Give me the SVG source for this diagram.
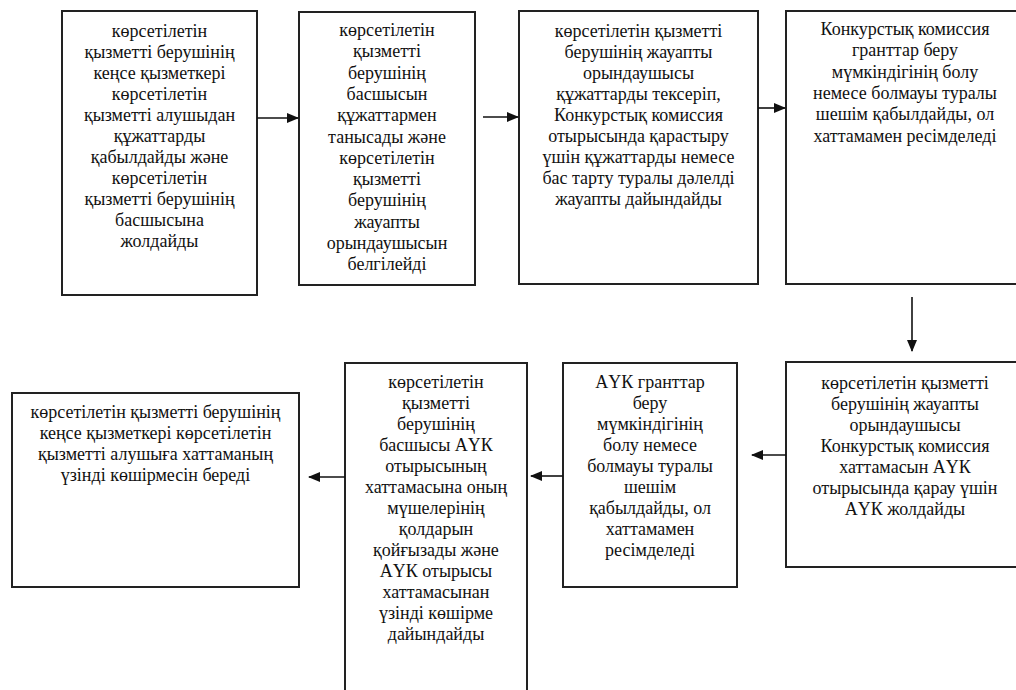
<svg xmlns="http://www.w3.org/2000/svg" width="1016" height="690" viewBox="0 0 1016 690">
<defs>
<marker id="ah" markerUnits="userSpaceOnUse" markerWidth="12" markerHeight="10" refX="11" refY="5" orient="auto">
<path d="M0,0 L12,5 L0,10 Z" fill="#111"/>
</marker>
<style>
.box{fill:#fff;stroke:#222;stroke-width:2}
.t{font-family:"Liberation Serif","Times New Roman",serif;font-size:18px;fill:#111;text-anchor:middle}
.c{stroke:#111;stroke-width:1.6;fill:none;marker-end:url(#ah)}
</style>
</defs>
<rect width="1016" height="690" fill="#fff"/>
<g id="n1">
<rect class="box" x="62" y="11" width="195" height="284"/>
<text class="t" y="37"><tspan x="159.5">көрсетілетін</tspan><tspan x="159.5" dy="21">қызметті берушінің</tspan><tspan x="159.5" dy="21">кеңсе қызметкері</tspan><tspan x="159.5" dy="21">көрсетілетін</tspan><tspan x="159.5" dy="21">қызметті алушыдан</tspan><tspan x="159.5" dy="21">құжаттарды</tspan><tspan x="159.5" dy="21">қабылдайды және</tspan><tspan x="159.5" dy="21">көрсетілетін</tspan><tspan x="159.5" dy="21">қызметті берушінің</tspan><tspan x="159.5" dy="21">басшысына</tspan><tspan x="159.5" dy="21">жолдайды</tspan></text>
</g>
<g id="n2">
<rect class="box" x="299" y="12" width="176" height="273"/>
<text class="t" y="36"><tspan x="387">көрсетілетін</tspan><tspan x="387" dy="21.3">қызметті</tspan><tspan x="387" dy="21.3">берушінің</tspan><tspan x="387" dy="21.3">басшысын</tspan><tspan x="387" dy="21.3">құжаттармен</tspan><tspan x="387" dy="21.3">танысады және</tspan><tspan x="387" dy="21.3">көрсетілетін</tspan><tspan x="387" dy="21.3">қызметті</tspan><tspan x="387" dy="21.3">берушінің</tspan><tspan x="387" dy="21.3">жауапты</tspan><tspan x="387" dy="21.3">орындаушысын</tspan><tspan x="387" dy="21.3">белгілейді</tspan></text>
</g>
<g id="n3">
<rect class="box" x="519" y="11" width="239" height="273"/>
<text class="t" y="37"><tspan x="638.5">көрсетілетін қызметті</tspan><tspan x="638.5" dy="21">берушінің жауапты</tspan><tspan x="638.5" dy="21">орындаушысы</tspan><tspan x="638.5" dy="21">құжаттарды тексеріп,</tspan><tspan x="638.5" dy="21">Конкурстық комиссия</tspan><tspan x="638.5" dy="21">отырысында қарастыру</tspan><tspan x="638.5" dy="21">үшін құжаттарды немесе</tspan><tspan x="638.5" dy="21">бас тарту туралы дәлелді</tspan><tspan x="638.5" dy="21">жауапты дайындайды</tspan></text>
</g>
<g id="n4">
<rect class="box" x="786" y="11" width="240" height="273"/>
<text class="t" y="35"><tspan x="905">Конкурстық комиссия</tspan><tspan x="905" dy="21.3">гранттар беру</tspan><tspan x="905" dy="21.3">мүмкіндігінің болу</tspan><tspan x="905" dy="21.3">немесе болмауы туралы</tspan><tspan x="905" dy="21.3">шешім қабылдайды, ол</tspan><tspan x="905" dy="21.3">хаттамамен ресімделеді</tspan></text>
</g>
<g id="n5">
<rect class="box" x="786" y="362" width="240" height="205"/>
<text class="t" y="389"><tspan x="905">көрсетілетін қызметті</tspan><tspan x="905" dy="21">берушінің жауапты</tspan><tspan x="905" dy="21">орындаушысы</tspan><tspan x="905" dy="21">Конкурстық комиссия</tspan><tspan x="905" dy="21">хаттамасын АҮК</tspan><tspan x="905" dy="21">отырысында қарау үшін</tspan><tspan x="905" dy="21">АҮК жолдайды</tspan></text>
</g>
<g id="n6">
<rect class="box" x="563" y="363" width="174" height="224"/>
<text class="t" y="388"><tspan x="650">АҮК гранттар</tspan><tspan x="650" dy="21">беру</tspan><tspan x="650" dy="21">мүмкіндігінің</tspan><tspan x="650" dy="21">болу немесе</tspan><tspan x="650" dy="21">болмауы туралы</tspan><tspan x="650" dy="21">шешім</tspan><tspan x="650" dy="21">қабылдайды, ол</tspan><tspan x="650" dy="21">хаттамамен</tspan><tspan x="650" dy="21">ресімделеді</tspan></text>
</g>
<g id="n7">
<rect class="box" x="345" y="363" width="182" height="340"/>
<text class="t" y="388"><tspan x="436">көрсетілетін</tspan><tspan x="436" dy="21">қызметті</tspan><tspan x="436" dy="21">берушінің</tspan><tspan x="436" dy="21">басшысы АҮК</tspan><tspan x="436" dy="21">отырысының</tspan><tspan x="436" dy="21">хаттамасына оның</tspan><tspan x="436" dy="21">мүшелерінің</tspan><tspan x="436" dy="21">қолдарын</tspan><tspan x="436" dy="21">қойғызады және</tspan><tspan x="436" dy="21">АҮК отырысы</tspan><tspan x="436" dy="21">хаттамасынан</tspan><tspan x="436" dy="21">үзінді көшірме</tspan><tspan x="436" dy="21">дайындайды</tspan></text>
</g>
<g id="n8">
<rect class="box" x="12" y="393" width="287" height="194"/>
<text class="t" y="418"><tspan x="155.5">көрсетілетін қызметті берушінің</tspan><tspan x="155.5" dy="21">кеңсе қызметкері көрсетілетін</tspan><tspan x="155.5" dy="21">қызметті алушыға хаттаманың</tspan><tspan x="155.5" dy="21">үзінді көшірмесін береді</tspan></text>
</g>
<g id="connectors">
<line class="c" x1="257" y1="118" x2="298" y2="118"/>
<line class="c" x1="483" y1="117" x2="518" y2="117"/>
<line class="c" x1="758" y1="108" x2="785" y2="108"/>
<line class="c" x1="912" y1="297" x2="912" y2="351"/>
<line class="c" x1="786" y1="455" x2="752" y2="455"/>
<line class="c" x1="563" y1="476" x2="531" y2="476"/>
<line class="c" x1="345" y1="477" x2="309" y2="477"/>
</g>
</svg>
